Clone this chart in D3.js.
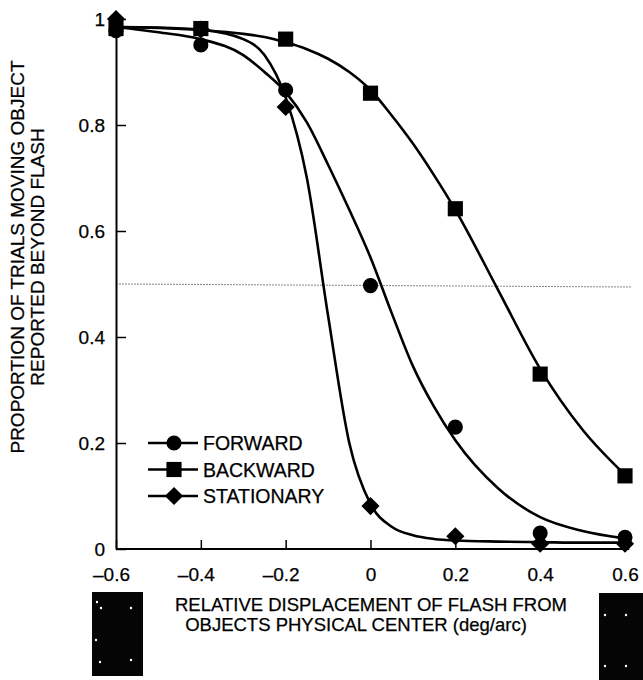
<!DOCTYPE html>
<meta charset="utf-8">
<head>
<style>
body { margin: 0; background: #fff; }
text { font-family: "Liberation Sans", Arial, sans-serif; fill: #000; stroke: #000; stroke-width: 0.25px; }
.curve { fill: none; stroke: #000; stroke-width: 2.6px; }
</style>
</head>
<body>
<svg></svg>
<script src="https://d3js.org/d3.v7.min.js"></script>
<script>
// measured points
var xValues = [-0.6, -0.4, -0.2, 0, 0.2, 0.4, 0.6];
var forward = [0.978, 0.951, 0.866, 0.497, 0.23, 0.03, 0.022];
var backward = [0.982, 0.982, 0.962, 0.86, 0.642, 0.33, 0.138];
var stationary = [1.0, 0.98, 0.834, 0.081, 0.024, 0.01, 0.01];

// fitted curves
var fitX = [-0.6, -0.5, -0.4, -0.3, -0.25, -0.2, -0.15, -0.1, -0.05, 0, 0.05, 0.1, 0.15, 0.2, 0.3, 0.4, 0.5, 0.6];
var forwardFit = [0.985, 0.975, 0.962, 0.932, 0.9, 0.862, 0.805, 0.725, 0.64, 0.55, 0.445, 0.345, 0.268, 0.205, 0.115, 0.06, 0.034, 0.02];
var backwardFit = [0.985, 0.983, 0.979, 0.972, 0.966, 0.956, 0.943, 0.925, 0.9, 0.866, 0.818, 0.765, 0.705, 0.64, 0.49, 0.34, 0.225, 0.14];
var stationaryFit = [0.985, 0.984, 0.98, 0.962, 0.932, 0.852, 0.7, 0.44, 0.2, 0.085, 0.042, 0.026, 0.019, 0.016, 0.014, 0.013, 0.012, 0.012];

var refLevel = 0.5;
var xTicks = [-0.6, -0.4, -0.2, 0, 0.2, 0.4, 0.6];
var yTicks = [0, 0.2, 0.4, 0.6, 0.8, 1];
var seriesNames = ["FORWARD", "BACKWARD", "STATIONARY"];

var width = 643, height = 680;

var svg = d3.select('svg')
  .attr('width', width)
  .attr('height', height);

var x = d3.scaleLinear().domain([-0.6, 0.6]).range([116, 625]);
var y = d3.scaleLinear().domain([0, 1]).range([549, 19]);

// scanner blotches at the bottom corners
svg.append('rect').attr('x', 92).attr('y', 592).attr('width', 51).attr('height', 84).attr('fill', '#050505');
svg.append('rect').attr('x', 599).attr('y', 593).attr('width', 44).attr('height', 87).attr('fill', '#050505');
var specks = [[97, 602], [96, 640], [101, 608], [131, 608], [100, 662], [131, 660], [605, 615], [626, 615], [605, 666], [626, 666]];
svg.append('g').selectAll('circle').data(specks).enter().append('circle')
  .attr('cx', function (d) { return d[0]; })
  .attr('cy', function (d) { return d[1]; })
  .attr('r', 1.2)
  .attr('fill', '#fff');

// reference line at 0.5
svg.append('line')
  .attr('x1', x(-0.6)).attr('x2', x(0.615))
  .attr('y1', y(refLevel)).attr('y2', y(refLevel) + 3)
  .attr('stroke', '#888')
  .attr('stroke-width', 1)
  .attr('stroke-dasharray', '2,1');

// axes
var xAxis = d3.axisBottom(x).tickValues(xTicks).tickSizeInner(-9).tickSizeOuter(0).tickPadding(0)
  .tickFormat(function (d) { return d === 0 ? '0' : (d < 0 ? '\u2013' : '') + Math.abs(d).toFixed(1); });
var gx = svg.append('g').attr('transform', 'translate(0,' + y(0) + ')').call(xAxis);
gx.select('.domain').attr('d', 'M' + x(-0.6) + ',0H' + x(0.61)).attr('stroke', '#000').attr('stroke-width', 2);
gx.selectAll('.tick line').attr('stroke', '#000').attr('stroke-width', 1.5);
gx.selectAll('.tick text')
  .attr('y', 32)
  .attr('dy', 0)
  .attr('dx', function (d) { return d < 0 ? -5 : 0; })
  .style('font-size', '19px')
  .style('font-family', '"Liberation Sans", Arial, sans-serif')
  .attr('fill', '#000');

var yAxis = d3.axisLeft(y).tickValues(yTicks).tickSizeInner(-10).tickSizeOuter(0).tickPadding(11)
  .tickFormat(function (d) { return d === 0 || d === 1 ? String(d) : d.toFixed(1); });
var gy = svg.append('g').attr('transform', 'translate(' + x(-0.6) + ',0)').call(yAxis);
gy.select('.domain').attr('stroke', '#000').attr('stroke-width', 2);
gy.selectAll('.tick line').attr('stroke', '#000').attr('stroke-width', 1.5);
gy.selectAll('.tick text')
  .style('font-size', '19px')
  .style('font-family', '"Liberation Sans", Arial, sans-serif')
  .attr('fill', '#000');

// fitted curves
var line = d3.line()
  .x(function (d) { return x(d[0]); })
  .y(function (d) { return y(d[1]); })
  .curve(d3.curveMonotoneX);

[forwardFit, backwardFit, stationaryFit].forEach(function (fit) {
  svg.append('path')
    .attr('class', 'curve')
    .attr('d', line(fit.map(function (v, i) { return [fitX[i], v]; })));
});

// markers
var shapes = [
  d3.symbol().type(d3.symbolCircle).size(180),
  d3.symbol().type(d3.symbolSquare).size(230),
  d3.symbol().type(d3.symbolSquare).size(165)
];
var rotations = [0, 0, 45];

[forward, backward, stationary].forEach(function (vals, k) {
  svg.append('g').selectAll('path')
    .data(vals)
    .enter().append('path')
    .attr('d', shapes[k])
    .attr('fill', '#000')
    .attr('transform', function (d, i) {
      return 'translate(' + x(xValues[i]) + ',' + y(d) + ') rotate(' + rotations[k] + ')';
    });
});

// legend
var legend = svg.append('g').selectAll('g')
  .data(seriesNames)
  .enter().append('g')
  .attr('transform', function (d, i) { return 'translate(148,' + (443 + i * 26.5) + ')'; });
legend.append('line')
  .attr('x1', 0).attr('x2', 50)
  .attr('stroke', '#000').attr('stroke-width', 2.6);
legend.append('path')
  .attr('d', function (d, i) { return shapes[i](); })
  .attr('transform', function (d, i) { return 'translate(26,0) rotate(' + rotations[i] + ')'; })
  .attr('fill', '#000');
legend.append('text')
  .attr('x', 55)
  .attr('dy', '0.36em')
  .style('font-size', '19.5px')
  .text(function (d) { return d; });

// axis titles
var yTitle = svg.append('g').attr('transform', 'translate(0,257) rotate(-90)');
yTitle.append('text').attr('y', 24).attr('text-anchor', 'middle').style('font-size', '19px')
  .text('PROPORTION OF TRIALS MOVING OBJECT');
yTitle.append('text').attr('y', 44).attr('text-anchor', 'middle').style('font-size', '19px')
  .text('REPORTED BEYOND FLASH');

svg.append('text').attr('x', 371).attr('y', 611).attr('text-anchor', 'middle').style('font-size', '18.5px')
  .text('RELATIVE DISPLACEMENT OF FLASH FROM');
svg.append('text').attr('x', 356).attr('y', 631).attr('text-anchor', 'middle').style('font-size', '18.5px')
  .text('OBJECTS PHYSICAL CENTER (deg/arc)');
</script>
</body>
</html>
